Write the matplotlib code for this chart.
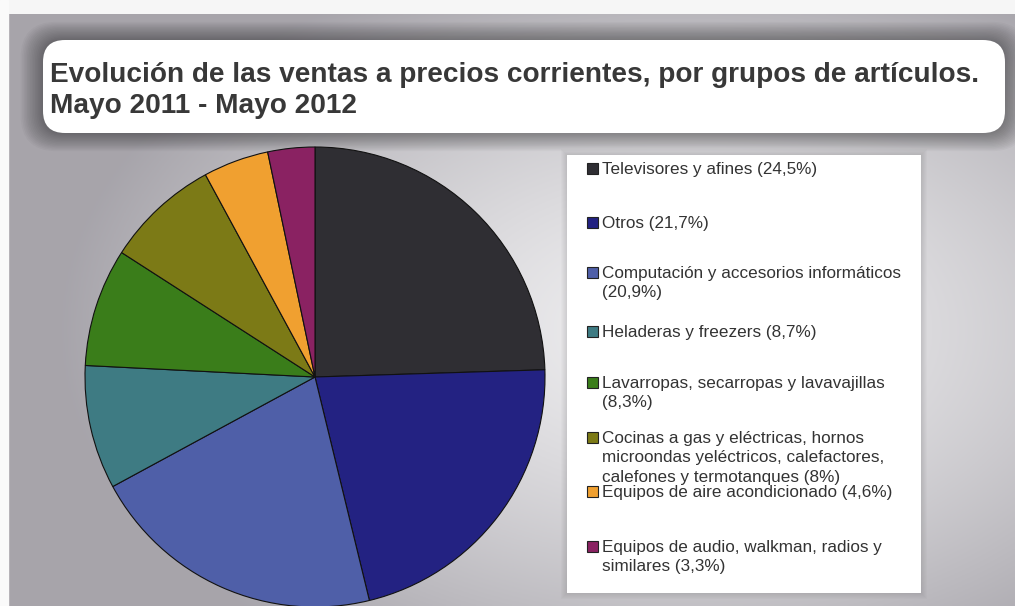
import matplotlib.pyplot as plt
import numpy as np
from matplotlib.patches import FancyBboxPatch, Rectangle

# data
names = [
    "Televisores y afines ",
    "Otros ",
    "Computación y accesorios informáticos\n",
    "Heladeras y freezers ",
    "Lavarropas, secarropas y lavavajillas\n",
    "Cocinas a gas y eléctricas, hornos\nmicroondas yeléctricos, calefactores,\ncalefones y termotanques ",
    "Equipos de aire acondicionado ",
    "Equipos de audio, walkman, radios y\nsimilares ",
]
shares = [24.5, 21.7, 20.9, 8.7, 8.3, 8.0, 4.6, 3.3]
colors = ["#2f2e33", "#232282", "#4f5fa8", "#3e7b83",
          "#3a7d1a", "#7c7a16", "#f0a030", "#8a2262"]
title_lines = ["Evolución de las ventas a precios corrientes, por grupos de artículos.",
               "Mayo 2011 - Mayo 2012"]

W, H = 1015, 606
fig = plt.figure(figsize=(W / 100, H / 100), dpi=100, facecolor="#f6f6f6")

# background layer in pixel coordinates
bg = fig.add_axes([0, 0, 1, 1], zorder=0)
bg.set_xlim(0, W)
bg.set_ylim(H, 0)
bg.axis("off")

# radial grey gradient of the panel
xx, yy = np.meshgrid(np.linspace(8, W, 400), np.linspace(14, H, 250))
d = np.sqrt(((xx - 680) / 620) ** 2 + ((yy - 330) / 390) ** 2)
t = np.clip(d, 0, 1) ** 1.4
light = np.array([0.935, 0.933, 0.94])
dark = np.array([0.655, 0.645, 0.67])
img = light[None, None, :] + (dark - light)[None, None, :] * t[..., None]
bg.imshow(img, extent=(8, W, H, 14), origin="upper", aspect="auto", zorder=0)
bg.add_patch(Rectangle((0, 0), 8, H, color="#fafafa", zorder=1))

# title box with soft shadow
for i in range(14, 0, -1):
    bg.add_patch(FancyBboxPatch((43 - i * 1.6, 40 - i * 1.3), 962 + i * 3.2, 93 + i * 2.6,
                                boxstyle="round,pad=0,rounding_size=%g" % (22 + i),
                                facecolor="black", edgecolor="none", alpha=0.026, zorder=2))
bg.add_patch(FancyBboxPatch((43, 40), 962, 93, boxstyle="round,pad=0,rounding_size=22",
                            facecolor="white", edgecolor="none", zorder=3))
t1 = bg.text(50, 82, title_lines[0], fontsize=19, fontweight="bold", color="#383838",
             family="Liberation Sans", va="baseline", zorder=4)
t2 = bg.text(50, 113, title_lines[1], fontsize=19, fontweight="bold", color="#383838",
             family="Liberation Sans", va="baseline", zorder=4)
# fit the first title line to the width it takes in the reference
fig.canvas.draw()
fs = 19 * 928 / t1.get_window_extent().width
t1.set_fontsize(fs)
t2.set_fontsize(fs)

# legend box
for i in range(6, 0, -1):
    bg.add_patch(Rectangle((567 - i, 155 - i), 354 + 2 * i, 438 + 2 * i,
                           facecolor="black", edgecolor="none", alpha=0.015, zorder=2))
bg.add_patch(Rectangle((567, 155), 354, 438, facecolor="white", edgecolor="none", zorder=3))

legend_baselines = [174, 228, 278, 337, 388, 443, 497, 552]
line_step = 19.3
for name, v, c, yb in zip(names, shares, colors, legend_baselines):
    label = name + "(" + ("%g" % v).replace(".", ",") + "%)"
    bg.add_patch(Rectangle((587, yb - 11), 11, 11, facecolor=c, edgecolor="#222222",
                           linewidth=0.8, zorder=4))
    for k, line in enumerate(label.split("\n")):
        bg.text(602, yb + k * line_step, line, fontsize=12.3, color="#333333",
                family="Liberation Sans", va="baseline", zorder=4)

# pie, centre (315, 377) px, radius 230 px
r = 230
ax = fig.add_axes([(315 - r) / W, (H - 377 - r) / H, 2 * r / W, 2 * r / H], zorder=5)
ax.pie(shares, colors=colors, startangle=90, counterclock=False, radius=1,
       wedgeprops=dict(edgecolor="#111111", linewidth=0.8))
ax.set_xlim(-1, 1)
ax.set_ylim(-1, 1)
ax.axis("off")

fig.savefig("out.png", dpi=100, facecolor=fig.get_facecolor())
